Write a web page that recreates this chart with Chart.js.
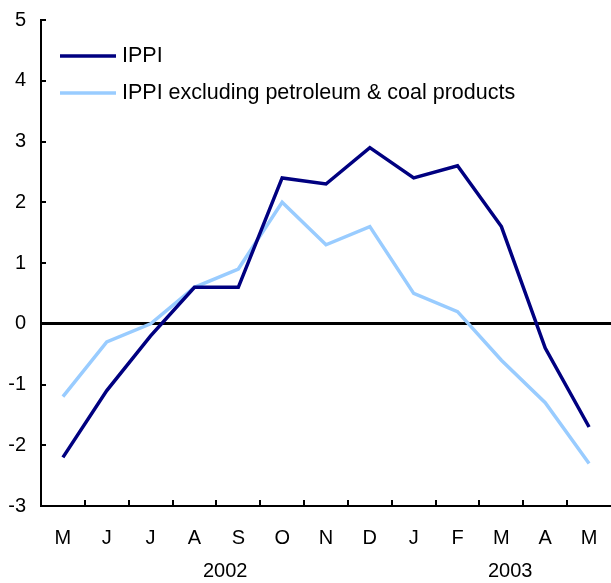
<!DOCTYPE html>
<html>
<head>
<meta charset="utf-8">
<script src="https://cdn.jsdelivr.net/npm/chart.js@4.4.0/dist/chart.umd.min.js"></script>
<style>
  html, body { margin: 0; padding: 0; background: #fff; }
  #wrap { width: 611px; height: 583px; }
</style>
</head>
<body>
<div id="wrap"><canvas id="chart"></canvas></div>
<script>
// --- data ---
const months = ['M', 'J', 'J', 'A', 'S', 'O', 'N', 'D', 'J', 'F', 'M', 'A', 'M'];
const ippi = [-2.2, -1.1, -0.2, 0.6, 0.6, 2.4, 2.3, 2.9, 2.4, 2.6, 1.6, -0.4, -1.7];
const ippiExcl = [-1.2, -0.3, 0.0, 0.6, 0.9, 2.0, 1.3, 1.6, 0.5, 0.2, -0.6, -1.3, -2.3];
const years = ['2002', '2003'];
const yMin = -3;
const yMax = 5;

const FONT = '"Liberation Sans", Arial, sans-serif';
const NAVY = '#000080';
const LIGHT = '#99CCFF';

// inward tick marks, year labels and the in-plot legend
const decorPlugin = {
    id: 'decor',
    afterDraw(chart) {
        const ctx = chart.ctx;
        const area = chart.chartArea;
        const x = chart.scales.x;
        const y = chart.scales.y;
        ctx.save();
        ctx.strokeStyle = '#000';
        ctx.lineWidth = 2;
        // x ticks between categories, pointing up
        for (let i = 1; i < months.length; i++) {
            const px = Math.round(x.getPixelForValue(i - 0.5));
            ctx.beginPath();
            ctx.moveTo(px, area.bottom);
            ctx.lineTo(px, area.bottom - 6);
            ctx.stroke();
        }
        // y ticks, pointing right
        for (let v = yMin; v <= yMax; v++) {
            const py = Math.round(y.getPixelForValue(v));
            ctx.beginPath();
            ctx.moveTo(area.left, py);
            ctx.lineTo(area.left + 5, py);
            ctx.stroke();
        }
        // years
        ctx.fillStyle = '#000';
        ctx.font = '20px ' + FONT;
        ctx.textAlign = 'center';
        ctx.textBaseline = 'middle';
        const yearIdx = [3.7, 10.2];
        years.forEach((yr, i) => {
            ctx.fillText(yr, x.getPixelForValue(yearIdx[i]), 571);
        });
        // legend
        ctx.font = '21.5px ' + FONT;
        ctx.textAlign = 'left';
        chart.data.datasets.forEach((ds, i) => {
            const ly = 56 + i * 37;
            ctx.strokeStyle = ds.borderColor;
            ctx.lineWidth = 3.5;
            ctx.beginPath();
            ctx.moveTo(60, ly);
            ctx.lineTo(116, ly);
            ctx.stroke();
            ctx.fillText(ds.label, 122, ly);
        });
        ctx.restore();
    }
};

new Chart(document.getElementById('chart'), {
    type: 'line',
    data: {
        labels: months,
        datasets: [
            { label: 'IPPI', data: ippi, borderColor: NAVY, borderWidth: 3.5, pointRadius: 0, tension: 0 },
            { label: 'IPPI excluding petroleum & coal products', data: ippiExcl, borderColor: LIGHT, borderWidth: 3.5, pointRadius: 0, tension: 0 }
        ]
    },
    options: {
        responsive: true,
        maintainAspectRatio: false,
        animation: false,
        layout: { padding: { top: 20, right: 0, bottom: 0, left: 0 } },
        plugins: { legend: { display: false }, tooltip: { enabled: false } },
        scales: {
            x: {
                offset: true,
                grid: { display: false, drawTicks: false },
                border: { display: true, color: '#000', width: 2 },
                ticks: { color: '#000', font: { size: 20, family: FONT }, padding: 20, maxRotation: 0, autoSkip: false },
                afterFit(scale) {
                    scale.height = 77;
                    scale.paddingLeft = 0;
                    scale.paddingRight = 0;
                }
            },
            y: {
                min: yMin,
                max: yMax,
                ticks: { stepSize: 1, color: '#000', font: { size: 20, family: FONT }, padding: 15 },
                grid: {
                    drawTicks: false,
                    color: c => c.tick && c.tick.value === 0 ? '#000' : 'rgba(0,0,0,0)',
                    lineWidth: c => c.tick && c.tick.value === 0 ? 3 : 0
                },
                border: { display: true, color: '#000', width: 2 },
                afterFit(scale) {
                    scale.width = 41;
                    scale.paddingTop = 0;
                    scale.paddingBottom = 0;
                }
            }
        }
    },
    plugins: [decorPlugin]
});
</script>
</body>
</html>
